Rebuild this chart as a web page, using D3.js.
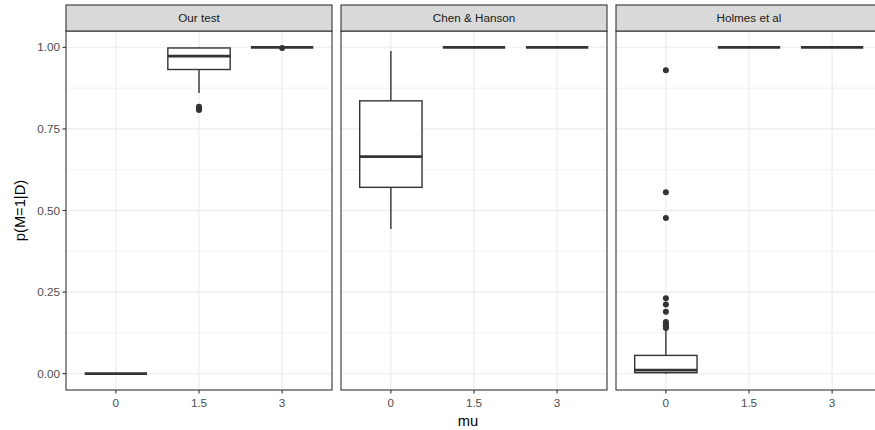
<!DOCTYPE html>
<html>
<head>
<meta charset="utf-8">
<script src="https://cdn.jsdelivr.net/npm/d3@7"></script>
<style>
  body { margin: 0; background: #fff; }
  svg { font-family: "Liberation Sans", Arial, sans-serif; display: block; }
</style>
</head>
<body>
<svg id="chart" width="875" height="430"></svg>
<script>
// ---- Data ----
const panels = ["Our test", "Chen & Hanson", "Holmes et al"];
const mus = ["0", "1.5", "3"];
// box stats per panel, one entry per mu
const whiskerLow = [[0, 0.86, 1], [0.443, 1, 1], [0, 1, 1]];
const q1 = [[0, 0.932, 1], [0.571, 1, 1], [0.003, 1, 1]];
const median = [[0, 0.973, 1], [0.665, 1, 1], [0.011, 1, 1]];
const q3 = [[0, 0.998, 1], [0.836, 1, 1], [0.056, 1, 1]];
const whiskerHigh = [[0, 1, 1], [0.989, 1, 1], [0.137, 1, 1]];
const outliers = [
  [[], [0.808, 0.811, 0.814, 0.818], [0.998]],
  [[], [], []],
  [[0.93, 0.556, 0.477, 0.231, 0.212, 0.19, 0.158, 0.153, 0.148, 0.144, 0.14], [], []]
];
const yTicks = [0, 0.25, 0.5, 0.75, 1];
const yMinor = [0.125, 0.375, 0.625, 0.875];

// ---- Layout ----
const panelLeft = [66, 341, 616];
const panelWidth = 266;
const stripTop = 5, plotTop = 31, plotBottom = 390;
const ink = "#333333";

const svg = d3.select("#chart");
svg.append("rect").attr("width", 875).attr("height", 430).attr("fill", "#fff");

const y = d3.scaleLinear().domain([-0.05, 1.05]).range([plotBottom, plotTop]);

panels.forEach((name, p) => {
  const x = d3.scaleBand().domain(mus)
    .range([panelLeft[p], panelLeft[p] + panelWidth])
    .paddingOuter(0.1).paddingInner(0);
  // band centre positions: ggplot discrete expand 0.6 -> width/3.2 per step
  const step = panelWidth / 3.2;
  const cx = i => panelLeft[p] + step * (0.6 + i);
  const g = svg.append("g");

  // ---- Grid ----
  g.selectAll(".minor").data(yMinor).enter().append("line")
    .attr("x1", panelLeft[p]).attr("x2", panelLeft[p] + panelWidth)
    .attr("y1", d => y(d)).attr("y2", d => y(d))
    .attr("stroke", "#ebebeb").attr("stroke-width", 0.6);
  g.selectAll(".major").data(yTicks).enter().append("line")
    .attr("x1", panelLeft[p]).attr("x2", panelLeft[p] + panelWidth)
    .attr("y1", d => y(d)).attr("y2", d => y(d))
    .attr("stroke", "#ebebeb").attr("stroke-width", 1.1);
  g.selectAll(".vmajor").data(mus).enter().append("line")
    .attr("x1", (d, i) => cx(i)).attr("x2", (d, i) => cx(i))
    .attr("y1", plotTop).attr("y2", plotBottom)
    .attr("stroke", "#ebebeb").attr("stroke-width", 1.1);

  // ---- Boxes ----
  const boxW = step * 0.75;
  mus.forEach((m, i) => {
    const c = cx(i);
    const b = g.append("g");
    b.append("line").attr("x1", c).attr("x2", c)
      .attr("y1", y(q3[p][i])).attr("y2", y(whiskerHigh[p][i]))
      .attr("stroke", ink).attr("stroke-width", 1.4);
    b.append("line").attr("x1", c).attr("x2", c)
      .attr("y1", y(q1[p][i])).attr("y2", y(whiskerLow[p][i]))
      .attr("stroke", ink).attr("stroke-width", 1.4);
    b.append("rect")
      .attr("x", c - boxW / 2).attr("width", boxW)
      .attr("y", y(q3[p][i])).attr("height", y(q1[p][i]) - y(q3[p][i]))
      .attr("fill", "#fff").attr("stroke", ink).attr("stroke-width", 1.4);
    b.append("line")
      .attr("x1", c - boxW / 2).attr("x2", c + boxW / 2)
      .attr("y1", y(median[p][i])).attr("y2", y(median[p][i]))
      .attr("stroke", ink).attr("stroke-width", 2.8);
    b.selectAll("circle").data(outliers[p][i]).enter().append("circle")
      .attr("cx", c).attr("cy", d => y(d)).attr("r", 3)
      .attr("fill", ink);
  });

  // ---- Panel border ----
  g.append("rect")
    .attr("x", panelLeft[p]).attr("y", plotTop)
    .attr("width", panelWidth).attr("height", plotBottom - plotTop)
    .attr("fill", "none").attr("stroke", ink).attr("stroke-width", 1.1);

  // ---- Strip ----
  g.append("rect")
    .attr("x", panelLeft[p]).attr("y", stripTop)
    .attr("width", panelWidth).attr("height", plotTop - stripTop)
    .attr("fill", "#d9d9d9").attr("stroke", ink).attr("stroke-width", 1.1);
  g.append("text")
    .attr("x", panelLeft[p] + panelWidth / 2).attr("y", (stripTop + plotTop) / 2)
    .attr("dy", "0.35em").attr("text-anchor", "middle")
    .attr("font-size", 11.7).attr("fill", "#1a1a1a")
    .text(name);

  // ---- X axis ----
  mus.forEach((m, i) => {
    g.append("line").attr("x1", cx(i)).attr("x2", cx(i))
      .attr("y1", plotBottom).attr("y2", plotBottom + 3.5)
      .attr("stroke", ink).attr("stroke-width", 1.1);
    g.append("text").attr("x", cx(i)).attr("y", plotBottom + 17)
      .attr("text-anchor", "middle").attr("font-size", 11.7).attr("fill", "#4d4d4d")
      .text(m);
  });
});

// ---- Y axis ----
const yAxis = svg.append("g");
yTicks.forEach(t => {
  yAxis.append("line").attr("x1", panelLeft[0] - 3.5).attr("x2", panelLeft[0])
    .attr("y1", y(t)).attr("y2", y(t))
    .attr("stroke", ink).attr("stroke-width", 1.1);
  yAxis.append("text").attr("x", panelLeft[0] - 6).attr("y", y(t))
    .attr("dy", "0.35em").attr("text-anchor", "end")
    .attr("font-size", 11.7).attr("fill", "#4d4d4d")
    .text(d3.format(".2f")(t));
});

// ---- Titles ----
svg.append("text")
  .attr("x", (panelLeft[0] + panelLeft[2] + panelWidth) / 2 - 6).attr("y", 426)
  .attr("text-anchor", "middle").attr("font-size", 14.7).attr("fill", "#000")
  .text("mu");
svg.append("text")
  .attr("transform", `translate(${25},${(plotTop + plotBottom) / 2}) rotate(-90)`)
  .attr("text-anchor", "middle").attr("font-size", 14.7).attr("fill", "#000")
  .text("p(M=1|D)");
</script>
</body>
</html>
